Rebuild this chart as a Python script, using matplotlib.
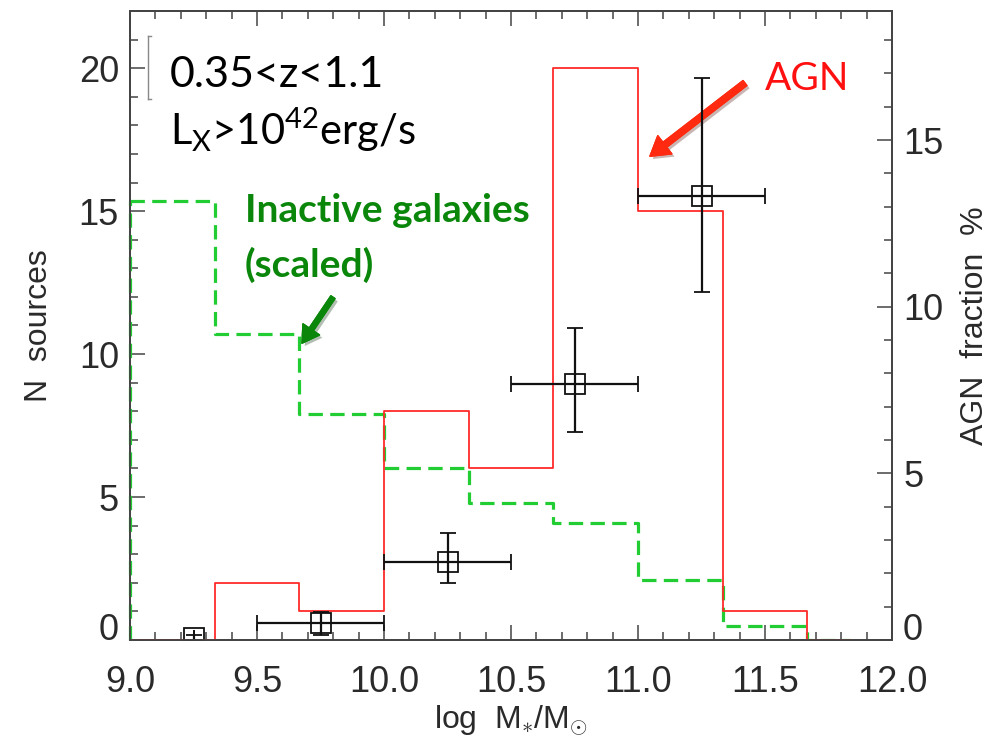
import matplotlib.pyplot as plt
import matplotlib.patheffects as pe
import numpy as np

plt.rcParams["font.family"] = ["Liberation Sans", "DejaVu Sans"]
plt.rcParams["mathtext.fontset"] = "custom"
plt.rcParams["mathtext.rm"] = "Liberation Sans"
plt.rcParams["mathtext.it"] = "Liberation Sans"

# histogram bins in log stellar mass (width 1/3 dex, last one half width)
edges = np.array([9.0, 9.333, 9.667, 10.0, 10.333, 10.667, 11.0, 11.333, 11.667, 11.833])
agn_counts = np.array([0, 2, 1, 8, 6, 20, 15, 1, 0])
inactive_scaled = np.array([15.35, 10.7, 7.9, 6.0, 4.8, 4.1, 2.1, 0.5, 0])

# AGN fraction per 0.5 dex bin
frac_x = np.array([9.25, 9.75, 10.25, 10.75, 11.25])
frac_y = np.array([0.05, 0.5, 2.35, 7.68, 13.33])
frac_lo = np.array([0.05, 0.35, 0.65, 1.43, 2.88])
frac_hi = np.array([0.1, 0.35, 0.87, 1.67, 3.54])
frac_xerr = np.array([0.0, 0.25, 0.25, 0.25, 0.25])

ann_font = "Lato"
axis_col = "#444444"
txt_col = "#2a2a2a"

fig = plt.figure(figsize=(10, 7.44), dpi=100)
ax = fig.add_axes([0.130, 0.1398, 0.762, 0.8454])
ax2 = ax.twinx()

ax.step(edges, np.append(inactive_scaled, inactive_scaled[-1]), where="post",
        color="#22cc33", lw=2.3, dashes=(4.5, 2.3), zorder=3)
ax.plot([edges[0], edges[0]], [0, inactive_scaled[0]], color="#22cc33", lw=2.3,
        dashes=(4.5, 2.3), clip_on=False, zorder=4)
ax.step(edges, np.append(agn_counts, agn_counts[-1]), where="post",
        color="#ff2a2a", lw=1.3, zorder=3)

ax2.errorbar(frac_x, frac_y, yerr=[frac_lo, frac_hi], xerr=frac_xerr, fmt="s",
             mfc="none", mec="#111111", mew=1.3, ms=14, ecolor="#111111",
             elinewidth=1.6, capsize=5.5, capthick=1.6)

ax.set_xlim(9.0, 12.0)
ax.set_ylim(0, 22)
ax2.set_ylim(0, 18.87)

ax.set_xticks(np.arange(9.0, 12.01, 0.5))
ax.set_xticks(np.arange(9.0, 12.01, 0.1), minor=True)
ax.set_yticks([0, 5, 10, 15, 20])
ax.set_yticks(np.arange(0, 22, 1), minor=True)
ax2.set_yticks([0, 5, 10, 15])
ax2.set_yticks(np.arange(0, 19, 1), minor=True)

for a in (ax, ax2):
    for s in a.spines.values():
        s.set_color(axis_col)
        s.set_linewidth(1.3)
    a.tick_params(which="both", direction="in", color=axis_col, width=1.1,
                  labelsize=26, labelcolor=txt_col)
    a.tick_params(which="major", length=11)
    a.tick_params(which="minor", length=5.5)
ax.tick_params(axis="x", which="both", top=True, pad=18)
ax.tick_params(axis="y", which="both", right=False, pad=8)
ax2.tick_params(axis="y", which="both", pad=8)
ax.set_xticklabels([f"{v:.1f}" for v in np.arange(9.0, 12.01, 0.5)])
ax.set_yticklabels(["0", "5", "10", "15", "20"])
ax2.set_yticklabels(["0", "5", "10", "15"])
# zero labels sit a little above the bottom axis
ax.get_yticklabels()[0].set_va("baseline")
ax2.get_yticklabels()[0].set_va("baseline")

ax.set_xlabel(r"log  M$_{\ast}$/M$_{\odot}$", fontsize=23, color=txt_col, labelpad=2)
ax.set_ylabel("N  sources", fontsize=23, color=txt_col, labelpad=18)
ax2.set_ylabel("AGN  fraction  %", fontsize=23, color=txt_col, labelpad=12)

ax.text(9.157, 19.33, "0.35<z<1.1", fontsize=31, family=ann_font, color="black")
ax.text(9.157, 17.31, r"L$_\mathregular{X}$>10$^\mathregular{42}$erg/s", fontsize=30,
        family=ann_font, color="black")
ax.text(9.453, 14.62, "Inactive galaxies", fontsize=28, family=ann_font,
        weight="bold", color="#0a870a")
ax.text(9.453, 12.69, "(scaled)", fontsize=28, family=ann_font, weight="bold",
        color="#0a870a")
ax.text(11.5, 19.23, "AGN", fontsize=28, family=ann_font, color="#ff1010")

shadow = [pe.withSimplePatchShadow(offset=(2, -2), alpha=0.3), pe.Normal()]
ax.annotate("", xy=(11.047, 16.92), xytext=(11.421, 19.48),
            arrowprops=dict(arrowstyle="simple,head_width=1.1,head_length=0.9,tail_width=0.3",
                            mutation_scale=15, color="#ff2a10", shrinkA=0, shrinkB=0,
                            path_effects=shadow))
ax.annotate("", xy=(9.677, 10.38), xytext=(9.799, 11.99),
            arrowprops=dict(arrowstyle="simple,head_width=1.2,head_length=1.0,tail_width=0.3",
                            mutation_scale=12, color="#0a870a", shrinkA=0, shrinkB=0,
                            path_effects=shadow))

# thin bracket beside the redshift label
ax.plot([0.0236, 0.0236], [0.960, 0.860], transform=ax.transAxes, color="#888888", lw=1.0,
        clip_on=False)
ax.plot([0.0236, 0.0275], [0.960, 0.960], transform=ax.transAxes, color="#888888", lw=1.0)
ax.plot([0.0236, 0.0275], [0.860, 0.860], transform=ax.transAxes, color="#888888", lw=1.0)

fig.savefig("out.png", dpi=100)
